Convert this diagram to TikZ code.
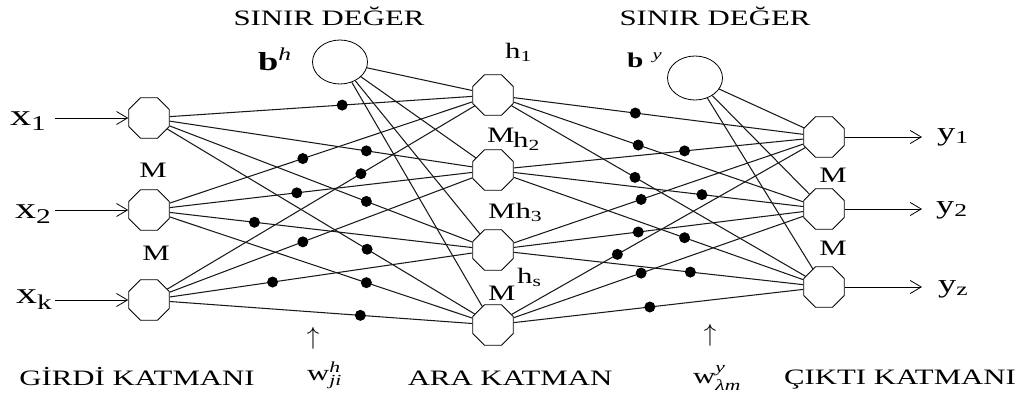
\documentclass[tikz,border=0pt]{standalone}
\usepackage{fontspec}
\setmainfont{Liberation Serif}[FakeStretch=1.4]
\usepackage{amsmath}
\usetikzlibrary{shapes.geometric, arrows.meta}

\begin{document}
\begin{tikzpicture}[
    x=1pt, y=-1pt,
    neuron/.style={draw, regular polygon, regular polygon sides=8, minimum size=44pt, inner sep=0pt, line width=0.8pt},
    bias/.style={draw, ellipse, minimum width=55pt, minimum height=44pt, inner sep=0pt, line width=0.8pt},
    link/.style={line width=1.05pt, black!90},
    wdot/.style={circle, fill=black, inner sep=0pt, minimum size=11pt},
    sig/.style={-{Straight Barb[length=11pt, width=13pt]}, line width=0.8pt},
    lbl/.style={font=\fontsize{22}{24}\selectfont, inner sep=0pt},
    xlbl/.style={font=\fontsize{30}{32}\selectfont, inner sep=0pt, anchor=base west},
    ylbl/.style={font=\fontsize{26}{28}\selectfont, inner sep=0pt, anchor=base west}
  ]
    \useasboundingbox (0,0) rectangle (1029,399);

    % layers
    \node[neuron] (x1) at (149,118) {};
    \node[neuron] (x2) at (149,210) {};
    \node[neuron] (xk) at (149,300) {};
    \node[bias]   (bh) at (340,62) {};
    \node[neuron] (h1) at (493,95) {};
    \node[neuron] (h2) at (493,170) {};
    \node[neuron] (h3) at (493,250) {};
    \node[neuron] (hs) at (493,325) {};
    \node[bias]   (by) at (695,78) {};
    \node[neuron] (y1) at (824,137) {};
    \node[neuron] (y2) at (824,209) {};
    \node[neuron] (yz) at (824,287) {};

    % weighted links
    \foreach \a/\b/\p in {x1/h1/0.57, x1/h2/0.65, x1/h3/0.65, x1/hs/0.65,
                          x2/h1/0.44, x2/h2/0.42, x2/h3/0.28, x2/hs/0.65,
                          xk/h1/0.63, xk/h2/0.44, xk/h3/0.34, xk/hs/0.63,
                          h1/y1/0.42, h1/y2/0.43, h1/yz/0.42,
                          h2/y1/0.59, h2/y2/0.65, h2/yz/0.59,
                          h3/y1/0.44, h3/y2/0.43, h3/yz/0.61,
                          hs/y1/0.36, hs/y2/0.44, hs/yz/0.47}
      \draw[link] (\a) -- node[wdot, pos=\p] {} (\b);
    \foreach \b in {h1,h2,h3,hs}
      \draw[link] (bh) -- (\b);
    \foreach \b in {y1,y2,yz}
      \draw[link] (by) -- (\b);

    % inputs and outputs
    \coordinate (in1) at (55,118);
    \coordinate (in2) at (55,210);
    \coordinate (ink) at (55,300);
    \coordinate (out1) at (922,137);
    \coordinate (out2) at (922,209);
    \coordinate (outz) at (922,287);
    \draw[sig] (in1) -- (x1);
    \draw[sig] (in2) -- (x2);
    \draw[sig] (ink) -- (xk);
    \draw[sig] (y1) -- (out1);
    \draw[sig] (y2) -- (out2);
    \draw[sig] (yz) -- (outz);

    \node[xlbl] (lx1) at (10,125) {x\textsubscript{1}};
    \node[xlbl] (lx2) at (15,218) {x\textsubscript{2}};
    \node[xlbl] (lxk) at (16,303) {x\textsubscript{k}};
    \node[ylbl] (ly1) at (937,140) {y\textsubscript{1}};
    \node[ylbl] (ly2) at (936,213) {y\textsubscript{2}};
    \node[ylbl] (lyz) at (938,292) {y\textsubscript{z}};

    % labels
    \node[lbl, anchor=base] (sb1) at (329,25) {SINIR DEĞER};
    \node[lbl, anchor=base] (sb2) at (715,25) {SINIR DEĞER};
    \node[lbl, anchor=base west, font=\fontsize{26}{28}\selectfont] (lbh) at (258,70) {\textbf{b}\textsuperscript{\textit{h}}};
    \node[lbl, anchor=base west, font=\fontsize{21}{23}\selectfont] (lby) at (627,67) {\textbf{b}\hspace{9pt}\textsuperscript{\textit{y}}};
    \node[lbl, anchor=base west] (lh1) at (505,58) {h\textsubscript{1}};
    \node[lbl, anchor=base west] (lm3) at (487,142) {M};
    \node[lbl, anchor=base west] (lh2) at (513,147) {h\textsubscript{2}};
    \node[lbl, anchor=base west] (lh3) at (488,218) {Mh\textsubscript{3}};
    \node[lbl, anchor=base west] (lm4) at (488,300) {M};
    \node[lbl, anchor=base west] (lhs) at (517,283) {h\textsubscript{s}};
    \node[lbl] (lm1) at (153,170) {M};
    \node[lbl] (lm2) at (156,253) {M};
    \node[lbl] (lm5) at (833,175) {M};
    \node[lbl] (lm6) at (833,248) {M};

    \node[lbl, font=\fontsize{30}{32}\selectfont] (up1) at (313,338) {$\uparrow$};
    \node[lbl, font=\fontsize{30}{32}\selectfont] (up2) at (710,335) {$\uparrow$};
    \node[lbl, anchor=base west] (wh) at (307,380) {$\text{w}^{\textit{h}}_{\textit{ji}}$};
    \node[lbl, anchor=base west] (wy) at (693,383) {$\text{w}^{\textit{y}}_{\textit{λm}}$};

    \node[lbl, anchor=base] (girdi) at (137,385) {GİRDİ KATMANI};
    \node[lbl, anchor=base] (ara) at (510,385) {ARA KATMAN};
    \node[lbl, anchor=base] (cikti) at (900,384) {ÇIKTI KATMANI};

  \end{tikzpicture}
\end{document}
